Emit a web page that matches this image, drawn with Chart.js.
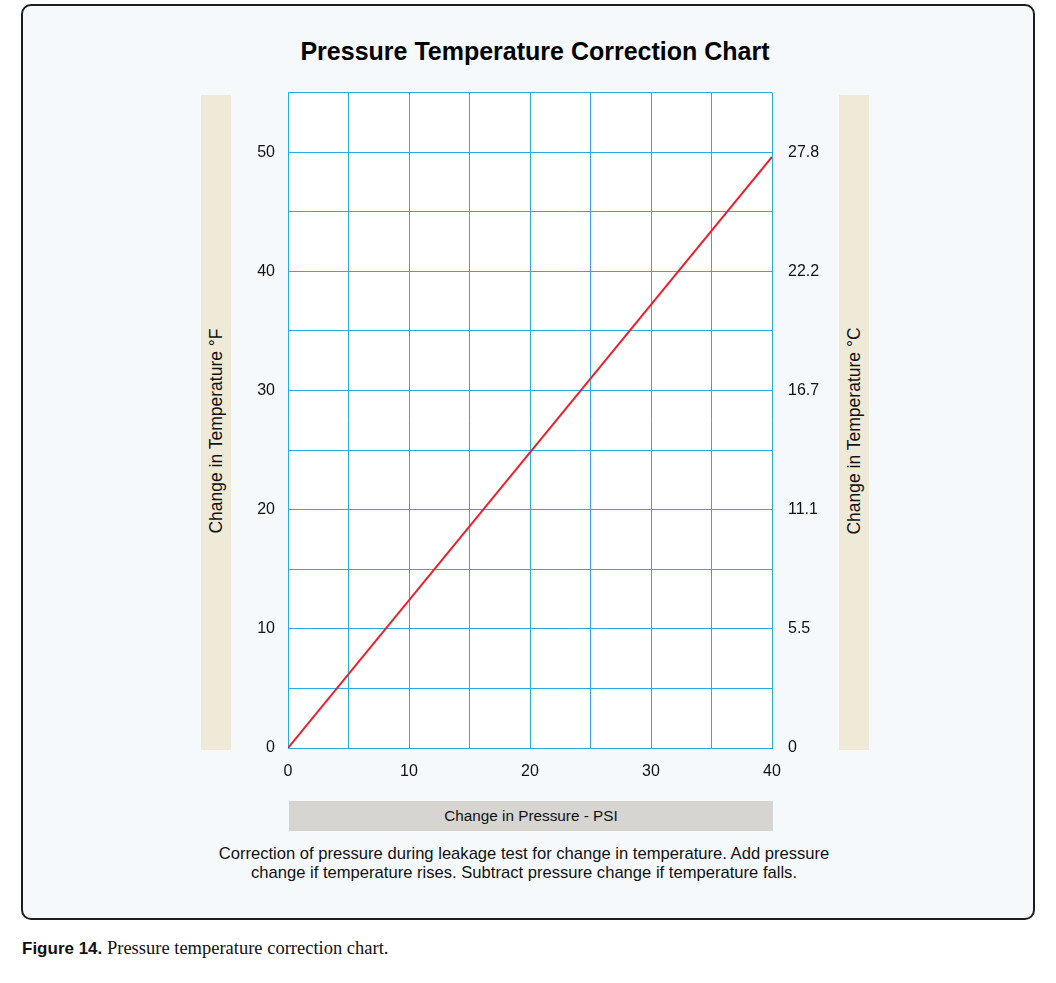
<!DOCTYPE html>
<html>
<head>
<meta charset="utf-8">
<script src="https://cdn.jsdelivr.net/npm/chart.js@4/dist/chart.umd.min.js"></script>
<style>
  body { margin: 0; background: #fff; font-family: "Liberation Sans", Arial, sans-serif; }
  .frame {
    position: absolute; left: 21px; top: 4px; width: 1010px; height: 912px;
    border: 2px solid #1e1e1e; border-radius: 10px; background: #f5f9fc;
  }
  .title {
    position: absolute; left: 0; top: 37px; width: 1056px; padding-left: 14px; box-sizing: border-box;
    text-align: center; font-weight: bold; font-size: 25px; color: #000;
  }
  .chart-box { position: absolute; left: 200px; top: 67px; width: 660px; height: 723px; }
  .vbar {
    position: absolute; top: 95px; width: 30px; height: 655px; background: #efe9d7;
  }
  .vbar span {
    position: absolute; left: 50%; top: 336px; white-space: nowrap; font-size: 17.5px; color: #111;
    transform: translate(-50%, -50%) rotate(-90deg);
  }
  .hbar {
    position: absolute; left: 289px; top: 801px; width: 484px; height: 30px; background: #d7d5d1;
    text-align: center; line-height: 30px; font-size: 15.3px; color: #111;
  }
  .note {
    position: absolute; left: 0; top: 844px; width: 1048px; text-align: center;
    font-size: 16.6px; line-height: 19px; color: #111;
  }
  .fig {
    position: absolute; left: 22px; top: 938px; font-size: 18.5px; color: #111;
    font-family: "Liberation Serif", "Times New Roman", serif;
  }
  .fig b { font-family: "Liberation Sans", Arial, sans-serif; font-size: 17px; }
</style>
</head>
<body>
<div class="frame"></div>
<div class="title">Pressure Temperature Correction Chart</div>
<div class="vbar" style="left:201px"><span>Change in Temperature °F</span></div>
<div class="vbar" style="left:839px"><span>Change in Temperature °C</span></div>
<div class="chart-box"><canvas id="pt"></canvas></div>
<div class="hbar">Change in Pressure - PSI</div>
<div class="note">Correction of pressure during leakage test for change in temperature. Add pressure<br>change if temperature rises. Subtract pressure change if temperature falls.</div>
<div class="fig"><b>Figure 14.</b> Pressure temperature correction chart.</div>
<script>
// line data
const pressurePsi = [0, 40];
const tempChangeF = [0, 49.6];

// tick labels
const xTickLabels = [0, 10, 20, 30, 40];
const fTickValues = [0, 10, 20, 30, 40, 50];
const cTickLabels = ["0", "5.5", "11.1", "16.7", "22.2", "27.8"];

const gridBlue = "#29abe2";

const plotBg = {
  id: "plotBg",
  beforeDraw(chart) {
    const { ctx, chartArea: a } = chart;
    ctx.save();
    ctx.fillStyle = "#ffffff";
    ctx.fillRect(a.left, a.top, a.right - a.left, a.bottom - a.top);
    ctx.restore();
  }
};

new Chart(document.getElementById("pt"), {
  type: "line",
  data: {
    datasets: [{
      data: pressurePsi.map((p, i) => ({ x: p, y: tempChangeF[i] })),
      borderColor: "#e8202a",
      borderWidth: 2,
      pointRadius: 0,
      fill: false
    }]
  },
  options: {
    responsive: true,
    maintainAspectRatio: false,
    animation: false,
    layout: { padding: { top: 12, left: 0, right: 0, bottom: 0 } },
    plugins: { legend: { display: false }, tooltip: { enabled: false } },
    scales: {
      x: {
        type: "linear", min: 0, max: 40,
        ticks: {
          stepSize: 5, padding: 14, color: "#111",
          font: { family: "Liberation Sans", size: 16 },
          maxRotation: 0,
          callback: v => xTickLabels.includes(v) ? String(v) : ""
        },
        grid: { color: gridBlue, lineWidth: 1, drawTicks: false },
        border: { color: gridBlue, width: 1 },
        afterFit(s) { s.height = 42; }
      },
      y: {
        type: "linear", position: "left", min: 0, max: 55,
        ticks: {
          stepSize: 5, padding: 13, color: "#111",
          font: { family: "Liberation Sans", size: 16 },
          callback: v => fTickValues.includes(v) ? String(v) : ""
        },
        grid: { color: gridBlue, lineWidth: 1, drawTicks: false },
        border: { color: gridBlue, width: 1 },
        afterFit(s) { s.width = 88; }
      },
      yC: {
        type: "linear", position: "right", min: 0, max: 55,
        afterBuildTicks(s) { s.ticks = fTickValues.map(v => ({ value: v })); },
        ticks: {
          padding: 16, color: "#111",
          font: { family: "Liberation Sans", size: 16 },
          callback: (v, i) => cTickLabels[i]
        },
        grid: { display: false, drawTicks: false },
        border: { display: false },
        afterFit(s) { s.width = 88; }
      }
    }
  },
  plugins: [plotBg]
});
</script>
</body>
</html>
